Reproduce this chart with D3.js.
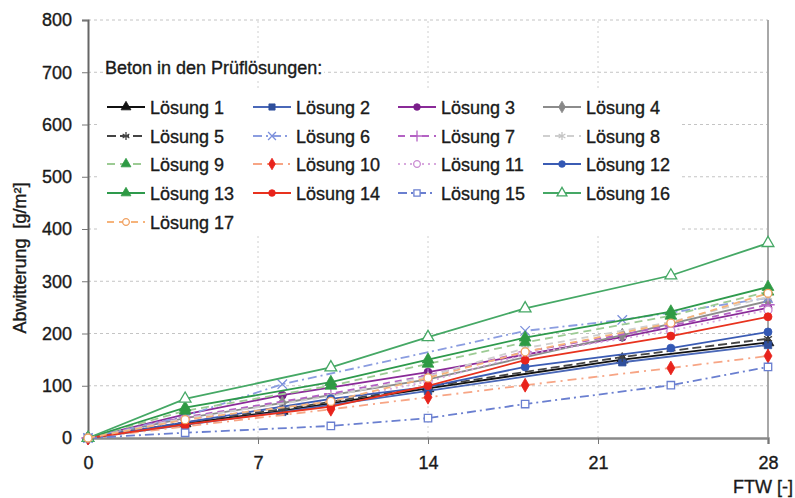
<!DOCTYPE html>
<html>
<head>
<meta charset="utf-8">
<script src="https://cdn.jsdelivr.net/npm/d3@7"></script>
<style>
  body { margin: 0; background: #fff; }
  svg { display: block; font-family: "Liberation Sans", Arial, sans-serif; }
</style>
</head>
<body>
<svg id="chart" width="795" height="498"></svg>
<script>
// FTW cycles at which the labs measured
const xEarly = [0, 4, 8, 14, 22, 28];
const xSix = [0, 4, 8, 18, 22, 28];
const xLate = [0, 4, 10, 14, 18, 24, 28];

const xTicks = [0, 7, 14, 21, 28];
const yTicks = [0, 100, 200, 300, 400, 500, 600, 700, 800];

const names = [
  'Lösung 1', 'Lösung 2', 'Lösung 3', 'Lösung 4', 'Lösung 5', 'Lösung 6',
  'Lösung 7', 'Lösung 8', 'Lösung 9', 'Lösung 10', 'Lösung 11', 'Lösung 12',
  'Lösung 13', 'Lösung 14', 'Lösung 15', 'Lösung 16', 'Lösung 17'
];

// Abwitterung [g/m²]
const loesung1 = [0, 28, 52, 95, 150, 183];
const loesung2 = [0, 25, 50, 90, 145, 178];
const loesung3 = [0, 45, 82, 126, 193, 249];
const loesung4 = [0, 38, 67, 112, 197, 262];
const loesung5 = [0, 30, 55, 98, 155, 190];
const loesung6 = [0, 42, 103, 205, 226, 268];
const loesung7 = [0, 40, 85, 120, 165, 215, 255];
const loesung8 = [0, 38, 80, 118, 172, 222, 270];
const loesung9 = [0, 52, 100, 142, 183, 234, 280];
const loesung10 = [0, 22, 55, 78, 101, 134, 157];
const loesung11 = [0, 35, 72, 108, 160, 205, 245];
const loesung12 = [0, 30, 75, 98, 136, 172, 203];
const loesung13 = [0, 58, 107, 150, 192, 242, 289];
const loesung14 = [0, 26, 60, 100, 149, 195, 232];
const loesung15 = [0, 10, 23, 38, 65, 101, 136];
const loesung16 = [0, 75, 135, 193, 248, 311, 373];
const loesung17 = [0, 35, 70, 115, 165, 220, 277];

const seriesX = [xEarly, xEarly, xEarly, xEarly, xEarly, xSix,
  xLate, xLate, xLate, xLate, xLate, xLate, xLate, xLate, xLate, xLate, xLate];
const seriesY = [loesung1, loesung2, loesung3, loesung4, loesung5, loesung6,
  loesung7, loesung8, loesung9, loesung10, loesung11, loesung12, loesung13,
  loesung14, loesung15, loesung16, loesung17];

// line colour, marker colour, dash, marker type, filled?
const styles = [
  { line: '#111', mark: '#111', dash: null, sym: 'triangle', fill: true },
  { line: '#4a68b8', mark: '#2f4f9c', dash: null, sym: 'square', fill: true },
  { line: '#8a2a98', mark: '#7a1f8a', dash: null, sym: 'circle', fill: true },
  { line: '#8c8c8c', mark: '#888', dash: null, sym: 'diamond', fill: true },
  { line: '#444', mark: '#444', dash: '9,4', sym: 'asterisk', fill: false },
  { line: '#8b9de0', mark: '#7b8fdc', dash: '9,4,2,4', sym: 'x', fill: false },
  { line: '#b462c4', mark: '#b462c4', dash: '7,5', sym: 'plus', fill: false },
  { line: '#cfcfcf', mark: '#c4c4c4', dash: '7,5', sym: 'asterisk', fill: false },
  { line: '#9ccb94', mark: '#2e9a44', dash: '8,5', sym: 'triangle', fill: true },
  { line: '#f7a585', mark: '#e8231c', dash: '9,5,2,5', sym: 'diamond', fill: true },
  { line: '#d8a8de', mark: '#c98ad2', dash: '2,4', sym: 'circle', fill: false },
  { line: '#3b5cb4', mark: '#3358b4', dash: null, sym: 'circle', fill: true },
  { line: '#2e9a4c', mark: '#2e9a44', dash: null, sym: 'triangle', fill: true },
  { line: '#e8321e', mark: '#e8231c', dash: null, sym: 'circle', fill: true },
  { line: '#6a7fd0', mark: '#6a7fd0', dash: '9,4,2,4', sym: 'square', fill: false },
  { line: '#45a865', mark: '#45a865', dash: null, sym: 'triangle', fill: false },
  { line: '#f6b37a', mark: '#f0a060', dash: '7,5', sym: 'circle', fill: false }
];

const symTypes = {
  triangle: d3.symbolTriangle,
  square: d3.symbolSquare,
  circle: d3.symbolCircle,
  diamond: d3.symbolDiamond,
  asterisk: d3.symbolAsterisk,
  x: d3.symbolX || d3.symbolTimes,
  plus: d3.symbolPlus || d3.symbolCross
};
const symSizes = { triangle: 60, square: 55, circle: 50, diamond: 55, asterisk: 60, x: 60, plus: 60 };

const svg = d3.select('#chart');
const x = d3.scaleLinear().domain([0, 28]).range([88, 768]);
const y = d3.scaleLinear().domain([0, 800]).range([438, 20]);

// text looks heavy in the scan, thicken a bit
function inkText(sel) {
  sel.attr('font-size', 18).attr('fill', '#1a1a1a')
    .attr('stroke', '#1a1a1a').attr('stroke-width', 0.35)
    .attr('font-family', '"Liberation Sans", Arial, sans-serif');
}

// grid
svg.append('g').selectAll('line')
  .data(yTicks.filter(d => d > 0))
  .enter().append('line')
  .attr('x1', x(0)).attr('x2', x(28))
  .attr('y1', d => y(d)).attr('y2', d => y(d))
  .attr('stroke', '#c4c4c4').attr('stroke-dasharray', '3,3');
svg.append('g').selectAll('line')
  .data([7, 14, 21])
  .enter().append('line')
  .attr('x1', d => x(d)).attr('x2', d => x(d))
  .attr('y1', y(0)).attr('y2', y(800))
  .attr('stroke', '#d0d0d0').attr('stroke-dasharray', '2,3');

// right border of plot area
svg.append('line')
  .attr('x1', x(28)).attr('x2', x(28)).attr('y1', y(800)).attr('y2', y(0))
  .attr('stroke', '#a8a8a8').attr('stroke-width', 2);

// axes
const yAxis = svg.append('g')
  .attr('transform', `translate(${x(0)},0)`)
  .call(d3.axisLeft(y).tickValues(yTicks).tickSize(6).tickPadding(10));
yAxis.select('.domain').attr('stroke', '#666').attr('stroke-width', 2);
const xAxis = svg.append('g')
  .attr('transform', `translate(0,${y(0)})`)
  .call(d3.axisBottom(x).tickValues(xTicks).tickSize(6).tickPadding(12));
xAxis.select('.domain').attr('stroke', '#8a8a8a').attr('stroke-width', 2.5);
[yAxis, xAxis].forEach(a => {
  a.selectAll('.tick line').attr('stroke', '#777');
  a.selectAll('text').call(inkText);
});

svg.append('text')
  .attr('transform', 'translate(26,258) rotate(-90)')
  .attr('text-anchor', 'middle')
  .call(inkText)
  .text('Abwitterung\u00a0 [g/m²]');
svg.append('text')
  .attr('x', 733).attr('y', 493)
  .call(inkText)
  .text('FTW [-]');

function drawMarker(g, s, cx, cy, scale = 1) {
  const p = g.append('path')
    .attr('transform', `translate(${cx},${cy})`)
    .attr('d', d3.symbol().type(symTypes[s.sym]).size(symSizes[s.sym] * scale)());
  if (s.fill && s.sym !== 'asterisk') {
    p.attr('fill', s.mark).attr('stroke', s.mark).attr('stroke-width', 0.8);
  } else {
    p.attr('fill', '#fff').attr('stroke', s.mark).attr('stroke-width', 1.3);
  }
}

// series lines
const line = d3.line().x(d => x(d[0])).y(d => y(d[1]));
const plot = svg.append('g');
seriesY.forEach((vals, i) => {
  const s = styles[i];
  const pts = vals.map((v, k) => [seriesX[i][k], v]);
  plot.append('path')
    .datum(pts)
    .attr('d', line)
    .attr('fill', 'none')
    .attr('stroke', s.line)
    .attr('stroke-width', 1.8)
    .attr('stroke-dasharray', s.dash);
  pts.forEach(p => drawMarker(plot, s, x(p[0]), y(p[1])));
});

// legend title on its own white patch
const titleBg = svg.append('rect').attr('fill', '#fff');
const titleText = svg.append('text')
  .attr('x', 105).attr('y', 74)
  .call(inkText)
  .text('Beton in den Prüflösungen:');
const tb = titleText.node().getBBox();
titleBg.attr('x', tb.x - 2).attr('y', tb.y).attr('width', tb.width + 4).attr('height', tb.height);

const legend = svg.append('g');
legend.append('rect')
  .attr('x', 97).attr('y', 90).attr('width', 583).attr('height', 146)
  .attr('fill', '#fff');
const colX = [107, 253, 398, 543];
const rowY = [107, 136, 164, 193, 222];
names.forEach((n, i) => {
  const s = styles[i];
  const lx = colX[i % 4];
  const ly = rowY[Math.floor(i / 4)];
  legend.append('line')
    .attr('x1', lx).attr('x2', lx + 38).attr('y1', ly).attr('y2', ly)
    .attr('stroke', s.line).attr('stroke-width', 1.8)
    .attr('stroke-dasharray', s.dash);
  drawMarker(legend, s, lx + 19, ly, 0.7);
  legend.append('text')
    .attr('x', lx + 43).attr('y', ly + 6.5)
    .call(inkText)
    .text(n);
});
</script>
</body>
</html>
